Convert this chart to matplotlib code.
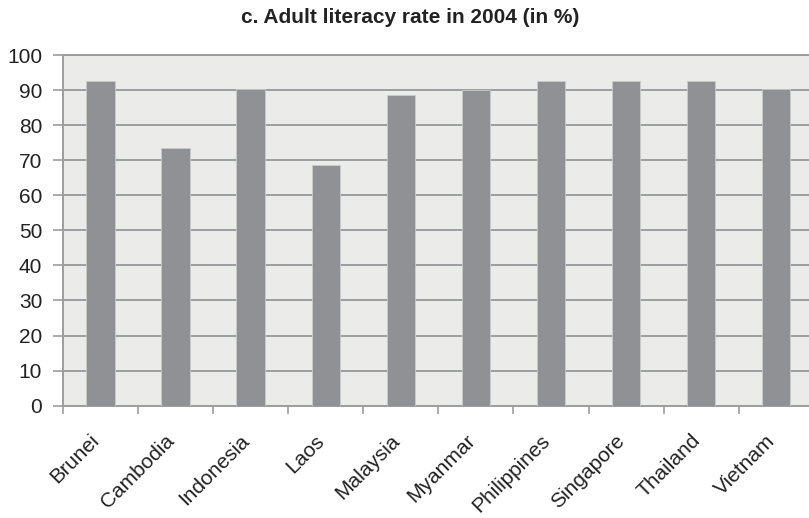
import matplotlib.pyplot as plt
import matplotlib.transforms as mtransforms
import numpy as np

plt.rcParams['font.family'] = ['Liberation Sans', 'DejaVu Sans']

countries = ["Brunei", "Cambodia", "Indonesia", "Laos", "Malaysia",
             "Myanmar", "Philippines", "Singapore", "Thailand", "Vietnam"]
literacy = [92.7, 73.6, 90.4, 68.7, 88.7, 89.9, 92.6, 92.5, 92.6, 90.3]

fig = plt.figure(figsize=(8.09, 5.18), dpi=100)
ax = fig.add_axes([0.0779, 0.2168, 0.928, 0.677])
ax.set_facecolor('#ebecea')

x = np.arange(len(countries))
ax.bar(x, literacy, width=0.38, color='#909195', edgecolor='#c9cacb',
       linewidth=0.6, zorder=3)

ax.set_xlim(-0.5, len(countries) - 0.5)
ax.set_ylim(0, 100)
ax.set_yticks(np.arange(0, 101, 10))
ax.yaxis.grid(True, color='#9c9d9e', linewidth=1.4, zorder=1)

# ticks between categories, labels under each bar
ax.set_xticks(np.arange(-0.5, len(countries), 1.0))
ax.set_xticklabels([])
ax.set_xticks(x, minor=True)
ax.set_xticklabels(countries, minor=True, rotation=45, ha='right',
                   va='center', rotation_mode='anchor', fontsize=15,
                   color='#222222')
ax.tick_params(axis='x', which='minor', length=0, pad=23)
ax.tick_params(axis='x', which='major', length=6, width=1.2, color='#9c9d9e')
ax.tick_params(axis='y', length=7, width=1.2, color='#9c9d9e',
               labelsize=15, labelcolor='#222222', pad=8)

shift = mtransforms.ScaledTranslation(-4 / 100, 0, fig.dpi_scale_trans)
for lbl in ax.get_xticklabels(minor=True):
    lbl.set_transform(lbl.get_transform() + shift)

for s in ax.spines.values():
    s.set_color('#9c9d9e')
    s.set_linewidth(1.4)

fig.text(0.507, 0.967, "c. Adult literacy rate in 2004 (in %)",
         ha='center', va='center', fontsize=15, fontweight='bold',
         color='#222222')

fig.savefig('out.png', dpi=100)
